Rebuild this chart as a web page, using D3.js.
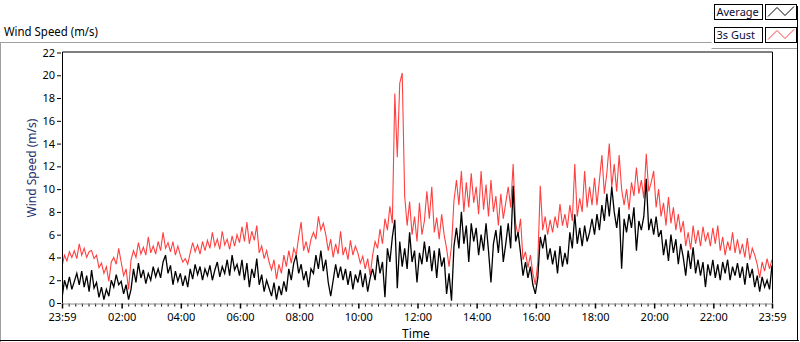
<!DOCTYPE html>
<html>
<head>
<meta charset="utf-8">
<script src="https://cdn.jsdelivr.net/npm/d3@7"></script>
<style>
  html, body { margin: 0; padding: 0; background: #fff; }
  svg { display: block; }
  text { font-family: "Segoe UI", "Noto Sans", "Liberation Sans", sans-serif; }
</style>
</head>
<body>
<svg id="chart" width="800" height="342"></svg>
<script>
// ---- data (5‑minute samples) ----
const seriesNames = ["Average", "3s Gust"];
const startTime = "2024-01-01T23:59:00";
const endTime = "2024-01-02T23:59:00";
const stepMinutes = 5;

const gust = [
  3.2, 4.2, 3.7, 4.5, 4.0, 4.6, 3.9, 5.2, 4.2, 4.8, 4.0, 4.5,
  4.6, 3.9, 4.2, 3.1, 3.5, 2.6, 3.2, 1.9, 3.6, 4.0, 3.4, 4.8,
  3.6, 2.4, 3.0, 1.2, 3.8, 4.6, 4.0, 5.3, 4.3, 4.9, 4.2, 5.8,
  4.4, 5.0, 4.3, 5.4, 4.6, 6.2, 4.8, 5.3, 4.5, 5.4, 4.2, 5.0,
  4.2, 3.6, 3.9, 3.4, 4.4, 5.3, 4.5, 5.1, 4.3, 5.4, 4.6, 5.5,
  4.8, 6.2, 5.0, 5.6, 4.7, 6.3, 5.1, 5.6, 4.7, 5.9, 5.0, 6.0,
  5.3, 6.7, 5.4, 7.1, 5.2, 6.3, 5.5, 6.8, 4.4, 5.0, 3.9, 4.6,
  3.6, 2.9, 3.8, 2.1, 3.4, 2.6, 4.2, 3.2, 4.6, 3.5, 4.8, 4.2,
  5.8, 7.1, 4.6, 5.4, 4.4, 5.6, 6.2, 5.6, 7.6, 6.4, 7.0, 6.0,
  4.6, 5.6, 4.0, 5.2, 4.3, 6.3, 4.2, 4.9, 3.8, 5.5, 4.2, 5.0,
  4.4, 3.5, 4.1, 3.0, 3.9, 2.4, 4.2, 5.4, 4.8, 6.5, 5.2, 7.4,
  6.4, 8.5, 7.0, 18.4, 12.8, 19.3, 20.2, 9.4, 6.8, 8.9, 6.0, 7.6,
  5.4, 8.8, 6.0, 7.2, 9.8, 7.4, 10.2, 6.2, 7.5, 5.6, 7.8, 6.0,
  4.8, 3.2, 5.0, 9.0, 10.8, 8.6, 11.6, 8.0, 10.6, 8.4, 11.4, 8.8,
  10.2, 7.8, 11.6, 8.2, 10.4, 7.6, 10.8, 8.0, 9.4, 6.8, 9.6, 7.4,
  8.8, 10.2, 8.4, 12.2, 7.0, 5.9, 7.4, 3.8, 4.5, 3.1, 4.2, 2.6,
  1.6, 3.6, 10.3, 6.4, 7.6, 6.0, 7.3, 6.2, 7.6, 6.6, 8.7, 6.8,
  7.8, 6.6, 8.6, 7.2, 12.2, 7.6, 9.2, 8.0, 11.6, 8.4, 10.2, 8.6,
  11.0, 8.6, 10.8, 13.0, 9.6, 11.4, 14.0, 10.2, 12.2, 9.8, 13.0, 10.0,
  8.6, 10.0, 8.2, 10.6, 9.4, 11.9, 9.6, 10.8, 9.2, 13.1, 9.8, 10.6,
  11.6, 8.4, 10.0, 7.6, 8.8, 6.8, 9.3, 7.0, 8.4, 6.4, 7.8, 6.2,
  7.2, 5.0, 6.2, 4.7, 6.8, 5.2, 6.4, 5.0, 6.7, 5.4, 6.2, 5.0,
  6.6, 5.2, 6.8, 4.6, 5.8, 4.2, 5.4, 4.6, 6.2, 4.4, 5.6, 4.3,
  5.2, 4.0, 5.7, 3.8, 4.8, 4.2, 3.4, 2.2, 3.6, 2.8, 3.9, 3.0,
  3.8
];

const average = [
  0.4, 2.0, 1.3, 2.3, 1.2, 1.9, 2.6, 1.6, 2.8, 1.4, 2.4, 1.0,
  2.9, 1.3, 1.8, 0.5, 1.4, 0.3, 1.2, 0.6, 2.0, 1.4, 2.5, 1.6,
  1.9, 0.8, 1.6, 0.3, 1.2, 3.0, 1.8, 3.5, 2.2, 2.9, 1.7, 2.6,
  2.0, 3.2, 2.3, 3.0, 2.2, 3.6, 4.2, 2.6, 3.3, 1.6, 2.8, 1.9,
  2.6, 1.5, 2.4, 1.4, 3.0, 2.1, 3.4, 2.5, 3.2, 2.0, 3.0, 2.4,
  3.3, 2.0, 2.9, 3.6, 2.3, 3.2, 2.6, 3.8, 2.4, 4.2, 2.9, 3.4,
  2.4, 3.8, 2.0, 3.5, 1.4, 3.0, 2.2, 3.9, 1.6, 2.5, 1.0, 2.0,
  1.3, 0.6, 1.8, 0.3, 1.5, 0.7, 1.9, 1.0, 3.0, 2.0, 3.5, 4.2,
  2.6, 3.4, 2.0, 2.8, 1.4, 3.0, 2.6, 4.2, 3.0, 4.6, 2.8, 3.8,
  1.8, 0.6, 2.0, 3.4, 2.2, 3.2, 2.0, 3.0, 1.6, 2.8, 1.2, 2.5,
  1.8, 2.9, 1.4, 2.6, 1.0, 2.2, 3.0, 2.0, 4.2, 2.6, 3.6, 0.5,
  4.8, 3.6, 5.8, 7.3, 1.3, 5.4, 3.2, 4.8, 3.0, 6.2, 3.6, 4.6,
  1.8, 4.4, 3.4, 5.4, 3.6, 5.0, 2.8, 4.6, 2.2, 4.8, 3.2, 4.0,
  0.8, 2.6, 0.2, 5.0, 6.6, 4.8, 8.0, 5.2, 6.8, 3.6, 7.0, 5.4,
  6.6, 4.2, 6.0, 4.6, 7.0, 4.6, 1.8, 5.2, 6.4, 4.4, 6.8, 3.6,
  5.2, 7.0, 4.8, 10.3, 5.4, 6.2, 4.4, 2.4, 3.6, 2.2, 3.2, 1.6,
  0.8, 2.2, 5.8, 4.8, 6.0, 3.8, 4.8, 3.4, 4.6, 2.6, 5.0, 3.2,
  4.4, 3.4, 6.2, 4.8, 7.8, 5.2, 6.6, 5.0, 6.8, 5.4, 6.2, 7.4,
  6.0, 7.8, 6.4, 8.6, 7.2, 9.6, 7.6, 10.2, 8.0, 6.6, 8.4, 3.0,
  7.4, 6.2, 7.8, 6.6, 8.4, 4.6, 7.2, 6.4, 7.6, 10.9, 6.4, 7.4,
  6.0, 7.6, 5.8, 6.4, 4.2, 5.6, 3.7, 6.0, 4.4, 5.6, 3.4, 5.2,
  4.0, 2.4, 4.6, 3.0, 4.9, 2.6, 3.8, 2.4, 3.6, 1.4, 3.4, 2.4,
  3.8, 2.2, 3.4, 2.0, 3.6, 2.6, 3.8, 2.0, 3.2, 2.4, 3.5, 2.2,
  3.2, 1.6, 3.5, 2.2, 3.0, 1.4, 2.4, 1.0, 2.3, 1.4, 2.0, 1.2,
  3.3
];

const yTicks = [0, 2, 4, 6, 8, 10, 12, 14, 16, 18, 20, 22];
const xTickLabels = ["23:59", "02:00", "04:00", "06:00", "08:00", "10:00", "12:00",
                     "14:00", "16:00", "18:00", "20:00", "22:00", "23:59"];
const seriesColors = ["#000000", "#ff4040"];

// ---- drawing ----
const svg = d3.select("#chart");
const plot = { left: 62, right: 772, top: 52.5, bottom: 303 };
const tickFont = "'Noto Sans','Liberation Sans',sans-serif";

const t0 = new Date(startTime), t1 = new Date(endTime);
const x = d3.scaleTime().domain([t0, t1]).range([plot.left, plot.right]);
const y = d3.scaleLinear().domain([0, 22]).range([plot.bottom, plot.top]);
const parseHM = d3.timeParse("%H:%M");

const tickDates = xTickLabels.map((lab, i) => {
  if (i === 0) return t0;
  if (i === xTickLabels.length - 1) return t1;
  const hm = parseHM(lab);
  const d = new Date(t1);
  d.setHours(hm.getHours(), hm.getMinutes(), 0, 0);
  return d;
});

// outer frame (sunken look)
svg.append("line").attr("x1", 0).attr("x2", 711.5).attr("y1", 42.5).attr("y2", 42.5).attr("stroke", "#a0a0a0");
svg.append("line").attr("x1", 0.5).attr("x2", 0.5).attr("y1", 42.5).attr("y2", 342).attr("stroke", "#a0a0a0");
svg.append("line").attr("x1", 711.5).attr("x2", 797).attr("y1", 48.5).attr("y2", 48.5).attr("stroke", "#a0a0a0");
svg.append("line").attr("x1", 0).attr("x2", 799).attr("y1", 340.5).attr("y2", 340.5).attr("stroke", "#000");
svg.append("line").attr("x1", 797.5).attr("x2", 797.5).attr("y1", 6).attr("y2", 341).attr("stroke", "#000");

// chart title
svg.append("text").attr("x", 4).attr("y", 36).attr("font-size", 12).attr("fill", "#000")
  .attr("textLength", 94).attr("lengthAdjust", "spacingAndGlyphs")
  .text("Wind Speed (m/s)");

// plot background + clip
svg.append("rect").attr("x", plot.left).attr("y", plot.top)
  .attr("width", plot.right - plot.left).attr("height", plot.bottom - plot.top).attr("fill", "#fff");
svg.append("clipPath").attr("id", "clip").append("rect")
  .attr("x", plot.left + 0.5).attr("y", plot.top)
  .attr("width", plot.right - plot.left - 0.5).attr("height", plot.bottom - plot.top);

// series lines
const timeAt = i => d3.timeMinute.offset(t0, i * stepMinutes);
const lineGen = d3.line().x((d, i) => x(timeAt(i))).y(d => y(d)).curve(d3.curveLinear);
const g = svg.append("g").attr("clip-path", "url(#clip)");
g.append("path").datum(gust).attr("d", lineGen).attr("fill", "none")
  .attr("stroke", seriesColors[1]).attr("stroke-width", 1.1);
g.append("path").datum(average).attr("d", lineGen).attr("fill", "none")
  .attr("stroke", seriesColors[0]).attr("stroke-width", 1.3);

// plot frame
svg.append("path")
  .attr("d", `M${plot.left + 0.5},${plot.bottom} V${plot.top - 0.5} H${plot.right + 0.5} V${plot.bottom}`)
  .attr("fill", "none").attr("stroke", "#000").attr("stroke-width", 1);

// y axis
const yAxis = d3.axisLeft(y).tickValues(yTicks).tickSize(4).tickPadding(2).tickSizeOuter(0);
const gy = svg.append("g").attr("transform", `translate(${plot.left - 1},0)`).call(yAxis);
gy.select(".domain").remove();
gy.selectAll("text").attr("font-size", 11).attr("fill", "#000").attr("font-family", tickFont);
gy.selectAll("line").attr("stroke", "#000");

// x axis: minor ticks (8 between each pair of majors)
const minor = [];
for (let k = 0; k < tickDates.length - 1; k++) {
  const a = x(tickDates[k]), b = x(tickDates[k + 1]);
  for (let m = 1; m < 9; m++) minor.push(x.invert(a + (b - a) * m / 9));
}
const gxMinor = svg.append("g").attr("transform", `translate(0,${plot.bottom + 0.5})`)
  .call(d3.axisBottom(x).tickValues(minor).tickSize(3).tickFormat(""));
gxMinor.select(".domain").remove();
gxMinor.selectAll("line").attr("stroke", "#000");

const xAxis = d3.axisBottom(x).tickValues(tickDates).tickSize(5).tickPadding(5)
  .tickFormat((d, i) => xTickLabels[i]).tickSizeOuter(0);
const gx = svg.append("g").attr("transform", `translate(0,${plot.bottom + 0.5})`).call(xAxis);
gx.select(".domain").attr("stroke", "#909090").attr("d", `M${plot.left},0.5H${plot.right + 1}`);
gx.selectAll("line").attr("stroke", "#000").attr("stroke-width", 1.5);
gx.selectAll("text").attr("font-size", 11).attr("fill", "#000").attr("font-family", tickFont);

// axis titles
svg.append("text").attr("x", 416).attr("y", 338).attr("text-anchor", "middle")
  .attr("font-size", 12).attr("fill", "#000").text("Time");
svg.append("text").attr("transform", "translate(36,168) rotate(-90)").attr("text-anchor", "middle")
  .attr("font-size", 12).attr("fill", "#1c2f6b").text("Wind Speed (m/s)");

// legend
const leg = svg.append("g");
seriesNames.forEach((name, i) => {
  const ty = 4.5 + i * 23;
  leg.append("rect").attr("x", 714.5).attr("y", ty).attr("width", 48).attr("height", 15)
    .attr("fill", "#fff").attr("stroke", "#000");
  leg.append("text").attr("x", 716.5).attr("y", ty + 11.5).attr("font-size", 11)
    .attr("fill", "#0a0a3a").attr("font-family", tickFont).text(name);
  leg.append("rect").attr("x", 765.5).attr("y", ty).attr("width", 31).attr("height", 15)
    .attr("fill", "#fff").attr("stroke", "#000");
  const zz = [[768, ty + 12], [777, ty + 3], [785, ty + 11], [794, ty + 2]];
  leg.append("path").attr("d", d3.line()(zz)).attr("fill", "none")
    .attr("stroke", seriesColors[i]).attr("stroke-width", 1);
});
</script>
</body>
</html>
